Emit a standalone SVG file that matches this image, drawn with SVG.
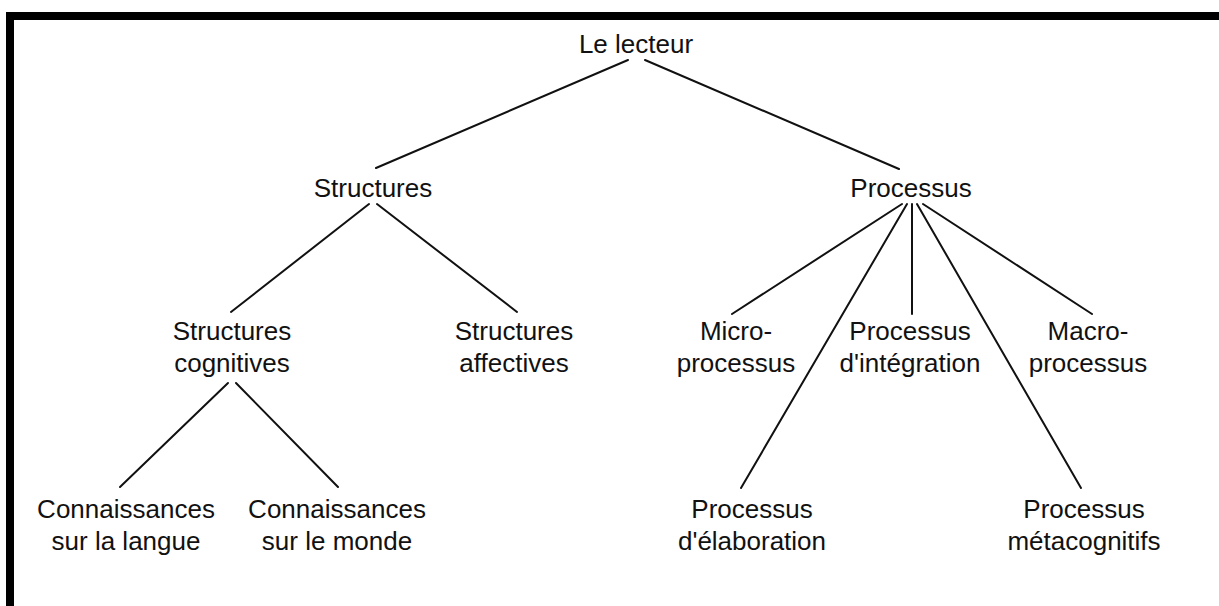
<svg xmlns="http://www.w3.org/2000/svg" width="1219" height="606" viewBox="0 0 1219 606">
<style>
text{font-family:"Liberation Sans",Arial,sans-serif;font-size:26px;fill:#111;text-anchor:middle}
.c line{stroke:#111;stroke-width:2;stroke-linecap:round}
</style>
<rect width="1219" height="606" fill="#fff"/>
<g id="frame" fill="#000">
<rect x="6" y="12" width="1213" height="8"/>
<rect x="6" y="12" width="8" height="594"/>
</g>
<g id="connectors" class="c">
<line x1="628" y1="60" x2="376" y2="168"/>
<line x1="645" y1="60" x2="899" y2="169"/>
<line x1="369" y1="204" x2="231" y2="312"/>
<line x1="377" y1="204" x2="517" y2="312"/>
<line x1="228" y1="383" x2="120" y2="487"/>
<line x1="236" y1="383" x2="338" y2="487"/>
<line x1="902" y1="204" x2="732" y2="314"/>
<line x1="907" y1="204" x2="741" y2="488"/>
<line x1="912" y1="204" x2="912" y2="314"/>
<line x1="917" y1="204" x2="1081" y2="488"/>
<line x1="923" y1="204" x2="1092" y2="314"/>
</g>
<g id="n-lecteur"><text x="636" y="53">Le lecteur</text></g>
<g id="n-structures"><text x="373" y="197">Structures</text></g>
<g id="n-processus"><text x="911" y="197">Processus</text></g>
<g id="n-struct-cog"><text x="232" y="340">Structures</text><text x="232" y="372">cognitives</text></g>
<g id="n-struct-aff"><text x="514" y="340">Structures</text><text x="514" y="372">affectives</text></g>
<g id="n-micro"><text x="736" y="340">Micro-</text><text x="736" y="372">processus</text></g>
<g id="n-integration"><text x="910" y="340">Processus</text><text x="910" y="372">d'intégration</text></g>
<g id="n-macro"><text x="1088" y="340">Macro-</text><text x="1088" y="372">processus</text></g>
<g id="n-langue"><text x="126" y="518">Connaissances</text><text x="126" y="550">sur la langue</text></g>
<g id="n-monde"><text x="337" y="518">Connaissances</text><text x="337" y="550">sur le monde</text></g>
<g id="n-elaboration"><text x="752" y="518">Processus</text><text x="752" y="550">d'élaboration</text></g>
<g id="n-metacog"><text x="1084" y="518">Processus</text><text x="1084" y="550">métacognitifs</text></g>
</svg>
